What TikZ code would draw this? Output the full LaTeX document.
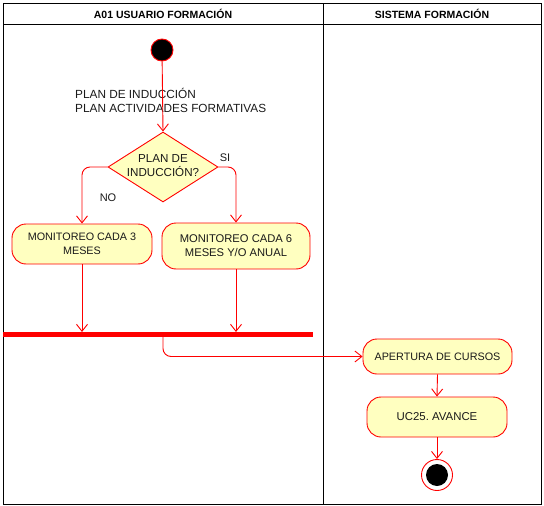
\documentclass[tikz,border=0pt]{standalone}
\usepackage{fontspec}
\setmainfont{Liberation Sans}
\usetikzlibrary{arrows.meta,shapes.geometric}
\definecolor{actfill}{HTML}{FFFFC0}
\definecolor{txt}{HTML}{1A1A1A}
\tikzset{
  act/.style={draw=red, line width=0.9pt, fill=actfill, rounded corners=14pt, align=center, font=\fontsize{10.8}{14}\selectfont, text=txt, inner sep=0pt},
  flow/.style={draw=red, line width=0.9pt, -{Straight Barb[length=7pt,width=11pt]}},
  lbl/.style={font=\fontsize{11.8}{14}\selectfont, text=txt, inner sep=0pt},
  hdr/.style={font=\bfseries\fontsize{10.5}{12}\selectfont, inner sep=0pt},
}
\begin{document}
\frenchspacing
\begin{tikzpicture}[x=1pt,y=-1pt]
\useasboundingbox (0,0) rectangle (544,506);
% lanes
\draw[black, line width=1pt] (3,3) rectangle (541,504);
\draw[black, line width=1pt] (3,24) -- (541,24);
\draw[black, line width=1pt] (323,3) -- (323,504);
\node[hdr] (h1) at (163,13.5) {A01 USUARIO FORMACIÓN};
\node[hdr] (h2) at (432,13.5) {SISTEMA FORMACIÓN};
% start
\node[circle, draw=red, line width=0.9pt, fill=black, minimum size=22pt, inner sep=0pt] (start) at (162,50) {};
\node[lbl, align=left, anchor=west] (plan) at (75,100.5) {PLAN DE INDUCCIÓN\\PLAN ACTIVIDADES FORMATIVAS};
% decision
\node[diamond, draw=red, line width=0.9pt, fill=actfill, minimum width=110pt, minimum height=70pt, inner sep=0pt, aspect=1.57] (dec) at (163,167) {};
\node[lbl, align=center, font=\fontsize{11.6}{14}\selectfont] (dect) at (163,166) {PLAN DE\\INDUCCIÓN?};
\draw[flow] (start) -- (dec.north);
% boxes
\node[act, minimum width=140pt, minimum height=40pt] (m3) at (82,244) {MONITOREO CADA 3\\MESES};
\node[act, minimum width=148pt, minimum height=46pt, font=\fontsize{11.2}{14}\selectfont] (m6) at (236,246) {MONITOREO CADA 6\\MESES Y/O ANUAL};
\draw[flow, rounded corners=8pt] (dec.west) -| (m3.north);
\draw[flow, rounded corners=8pt] (dec.east) -| (m6.north);
\node[lbl, font=\fontsize{11}{13}\selectfont] (si) at (225,158) {SI};
\node[lbl, font=\fontsize{11}{13}\selectfont] (no) at (108,198) {NO};
% bar
\fill[red] (3,332) rectangle (313,337);
\coordinate (b1) at (82,332);
\coordinate (b2) at (236,332);
\coordinate (b3) at (163,337);
\draw[flow] (m3.south) -- (b1);
\draw[flow] (m6.south) -- (b2);
% system lane
\node[act, minimum width=149pt, minimum height=35pt] (ap) at (437.5,356.5) {APERTURA DE CURSOS};
\node[act, minimum width=140pt, minimum height=40pt, font=\fontsize{11.4}{14}\selectfont] (uc) at (437,417) {UC25. AVANCE};
\draw[flow, rounded corners=8pt] (b3) |- (ap.west);
\draw[flow] (ap.south) -- (uc.north);
\node[circle, draw=red, line width=0.9pt, fill=white, minimum size=31pt, inner sep=0pt] (endo) at (437,475) {};
\node[circle, fill=black, minimum size=22pt, inner sep=0pt] (endi) at (437,475) {};
\draw[flow] (uc.south) -- (endo.north);
\end{tikzpicture}
\end{document}
